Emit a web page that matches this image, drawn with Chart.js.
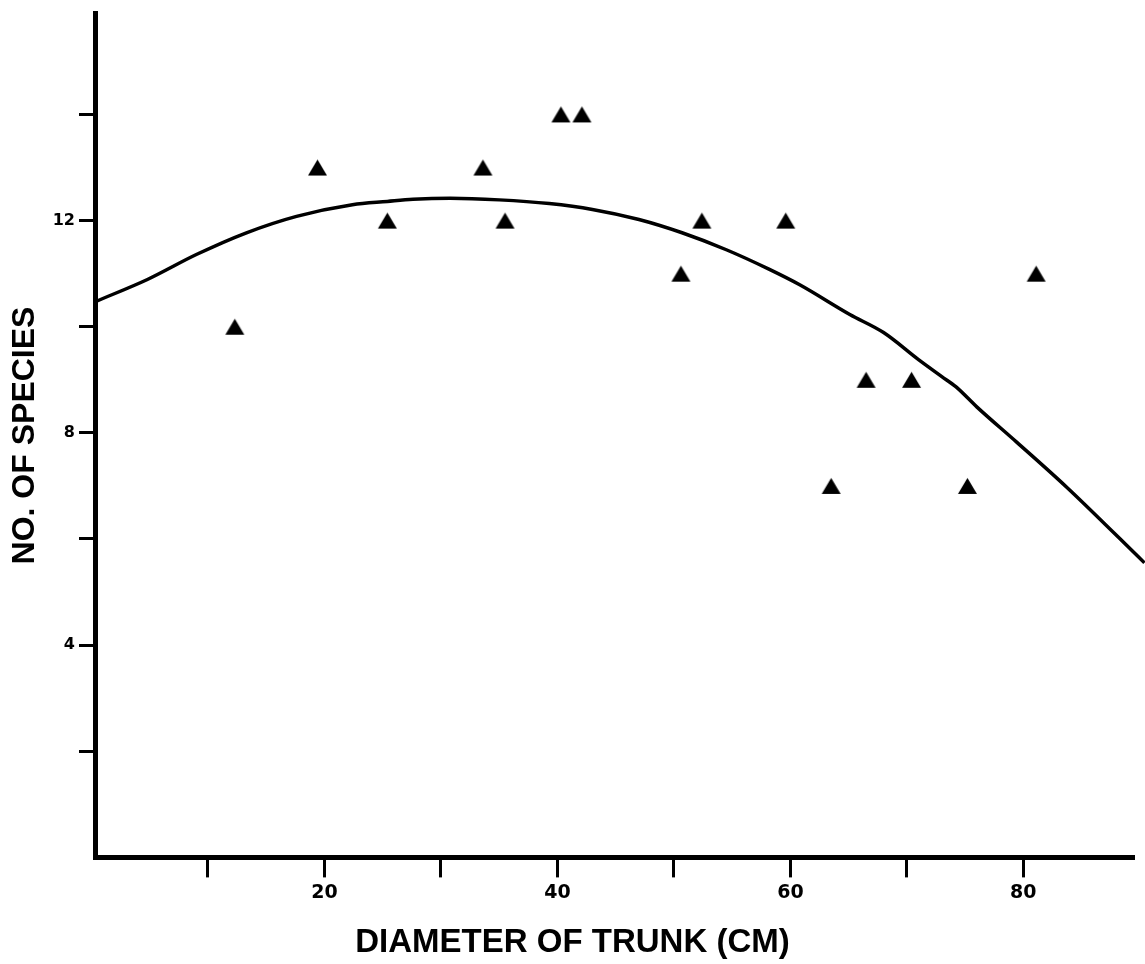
<!DOCTYPE html>
<html>
<head>
<meta charset="utf-8">
<title>Species vs trunk diameter</title>
<script src="https://cdn.jsdelivr.net/npm/chart.js@4.4.1/dist/chart.umd.min.js"></script>
<style>
  html, body { margin: 0; padding: 0; background: #fff; }
  #wrap { width: 1145px; height: 964px; }
</style>
</head>
<body>
<div id="wrap"><canvas id="speciesChart" width="1145" height="964"></canvas></div>
<script>
// observed trees: trunk diameter (cm) and number of species
const diameters = [12.3, 19.4, 25.4, 33.6, 35.5, 40.3, 42.1, 50.6, 52.4, 59.6, 63.5, 66.5, 70.4, 75.2, 81.1];
const speciesCounts = [10, 13, 12, 13, 12, 14, 14, 11, 12, 12, 7, 9, 9, 7, 11];

// fitted curve
const curveX = [0.3, 4.8, 9.0, 13.3, 17.6, 22.4, 25.4, 27.6, 30.8, 35.0, 39.3, 43.0, 47.0, 50.7, 54.5, 58.2, 60.8, 65.1, 68.0, 71.0, 73.0, 74.2, 76.0, 79.4, 83.7, 90.4];
const curveY = [10.47, 10.89, 11.36, 11.77, 12.08, 12.30, 12.36, 12.40, 12.42, 12.39, 12.32, 12.21, 12.02, 11.77, 11.45, 11.08, 10.79, 10.23, 9.89, 9.38, 9.06, 8.87, 8.49, 7.83, 6.98, 5.55];

// axis ticks, only some carry a label
const xTicks = [10, 20, 30, 40, 50, 60, 70, 80];
const xTickLabels = ["", "20", "", "40", "", "60", "", "80"];
const yTicks = [2, 4, 6, 8, 10, 12, 14];
const yTickLabels = ["", "4", "", "8", "", "12", ""];

const TITLE_FONT = "'Liberation Sans', Arial, Helvetica, sans-serif";
const TICK_FONT = "'DejaVu Sans', Verdana, sans-serif";

// filled triangle marker, centred on its bounding box
function makeTriangle(w, h) {
  const c = document.createElement("canvas");
  c.width = w + 2;
  c.height = h + 2;
  const g = c.getContext("2d");
  g.fillStyle = "#000";
  g.beginPath();
  g.moveTo(c.width / 2, 1);
  g.lineTo(c.width - 1, h + 1);
  g.lineTo(1, h + 1);
  g.closePath();
  g.fill();
  return c;
}
const triangle = makeTriangle(19, 16);

const points = diameters.map((d, i) => ({ x: d, y: speciesCounts[i] }));
const curve = curveX.map((d, i) => ({ x: d, y: curveY[i] }));

new Chart(document.getElementById("speciesChart"), {
  type: "scatter",
  data: {
    datasets: [
      {
        label: "Observed",
        data: points,
        pointStyle: triangle,
        pointRadius: 10,
        showLine: false
      },
      {
        label: "Fit",
        data: curve,
        showLine: true,
        borderColor: "#000",
        borderWidth: 3.5,
        pointRadius: 0,
        cubicInterpolationMode: "monotone",
        clip: 12,
        fill: false
      }
    ]
  },
  options: {
    responsive: false,
    animation: false,
    events: [],
    layout: { padding: { top: 4, right: 0, left: 0, bottom: 0 } },
    plugins: {
      legend: { display: false },
      tooltip: { enabled: false },
      // x-axis caption sits centred on the whole canvas
      title: {
        display: true,
        position: "bottom",
        text: "DIAMETER OF TRUNK (CM)",
        color: "#000",
        font: { family: TITLE_FONT, size: 33, weight: "bold" },
        padding: { top: 0, bottom: 1 }
      }
    },
    scales: {
      x: {
        type: "linear",
        min: 0.3,
        max: 89.5,
        afterFit: s => { s.height = 66; },
        afterBuildTicks: s => { s.ticks = xTicks.map(v => ({ value: v })); },
        border: { display: true, color: "#000", width: 5 },
        grid: { drawOnChartArea: false, drawTicks: true, tickLength: 20, tickWidth: 3, tickColor: "#000" },
        ticks: {
          color: "#000",
          padding: 4,
          maxRotation: 0,
          autoSkip: false,
          font: { family: TICK_FONT, size: 19, weight: "bold" },
          callback: v => xTickLabels[xTicks.indexOf(v)] ?? ""
        }
      },
      y: {
        type: "linear",
        min: 0,
        max: 15.9,
        afterFit: s => { s.width = 95; },
        afterBuildTicks: s => { s.ticks = yTicks.map(v => ({ value: v })); },
        border: { display: true, color: "#000", width: 5 },
        grid: { drawOnChartArea: false, drawTicks: true, tickLength: 16, tickWidth: 3, tickColor: "#000" },
        ticks: {
          color: "#000",
          padding: 4,
          autoSkip: false,
          font: { family: TICK_FONT, size: 16, weight: "bold" },
          callback: v => yTickLabels[yTicks.indexOf(v)] ?? ""
        },
        title: {
          display: true,
          text: "NO. OF SPECIES",
          color: "#000",
          font: { family: TITLE_FONT, size: 32, weight: "bold" },
          padding: { top: 6, bottom: 0 }
        }
      }
    }
  }
});
</script>
</body>
</html>
